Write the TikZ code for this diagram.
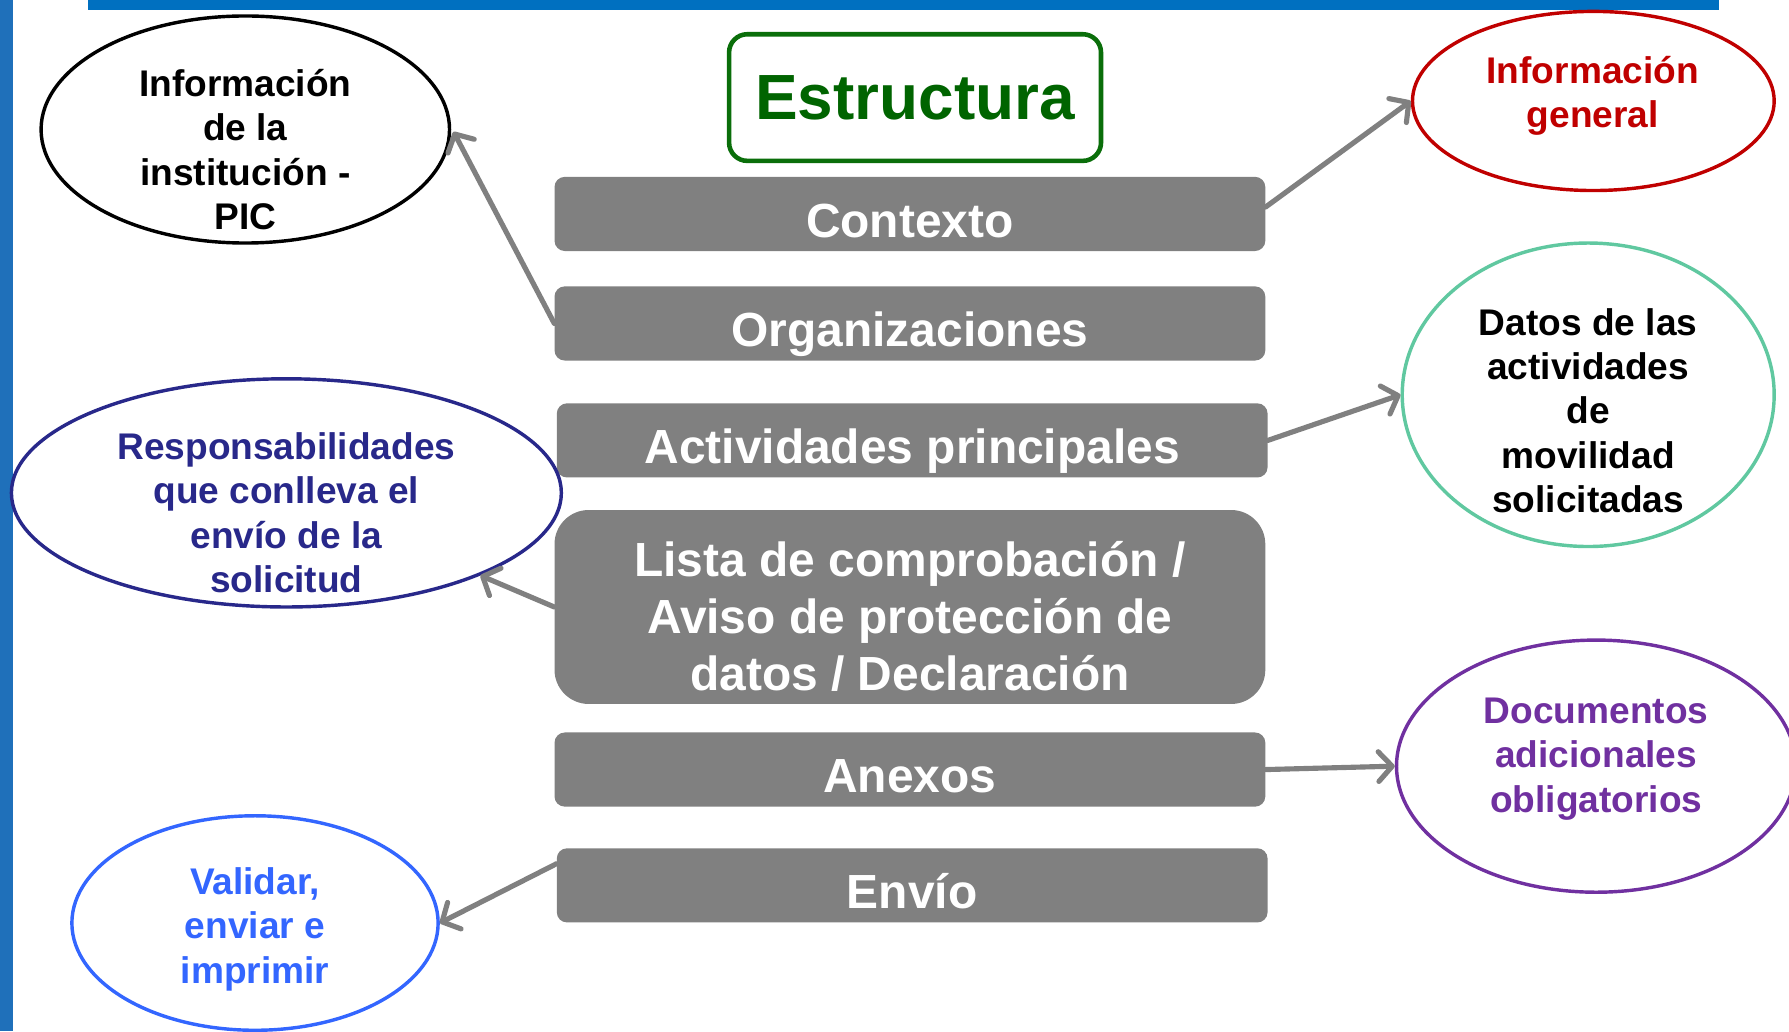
\documentclass[tikz,border=0pt]{standalone}
\usepackage{fontspec}
\setmainfont{Liberation Sans}
\usetikzlibrary{shapes.geometric,arrows.meta}
\definecolor{topblue}{HTML}{0070C0}
\definecolor{sideblue}{HTML}{1F70BA}
\definecolor{boxgray}{HTML}{808080}
\definecolor{estgreen}{HTML}{0A6E0A}
\definecolor{esttext}{HTML}{006400}
\definecolor{myred}{HTML}{C00000}
\definecolor{mygreen}{HTML}{60C8A0}
\definecolor{mynavy}{HTML}{28288A}
\definecolor{mypurple}{HTML}{7030A0}
\definecolor{myblue}{HTML}{3366FF}
\tikzset{
  graybox/.style={fill=boxgray, rounded corners=9pt, minimum width=623pt, minimum height=65pt,
    inner sep=0pt, text=white, font=\bfseries\fontsize{42}{50}\selectfont, align=center,
    text height=41pt, text depth=0pt},
  boxtext/.style={text=white, font=\bfseries\fontsize{42}{50}\selectfont, align=center, inner sep=0pt},
  oval/.style={ellipse, draw, line width=3pt, inner sep=0pt, fill=white},
  ovaltext/.style={font=\bfseries\fontsize{32.5}{39}\selectfont, align=center, inner sep=0pt},
  conn/.style={draw=boxgray, line width=4.5pt, line cap=round,
    -{Straight Barb[length=12pt,width=26pt,round]}}
}
\begin{document}
\begin{tikzpicture}[x=1pt,y=-1pt]
\useasboundingbox (0,0) rectangle (1568,904);
\fill[white] (0,0) rectangle (1568,904);
% bars
\fill[topblue] (77,0) rectangle (1507,9);
\fill[sideblue] (0,0) rectangle (11,904);

% title
\node[draw=estgreen, line width=4pt, rounded corners=16pt, minimum width=326pt, minimum height=111pt,
  inner sep=0pt, text=esttext, font=\bfseries\fontsize{56}{64}\selectfont] (est) at (802,85.5) {Estructura};

% boxes
\node[graybox] (ctx) at (797.5,187.5) {Contexto};
\node[graybox] (org) at (797.5,283.5) {Organizaciones};
\node[graybox] (act) at (799.5,386) {Actividades principales};
\node[fill=boxgray, rounded corners=30pt, minimum width=623pt, minimum height=170pt, inner sep=0pt] (lst) at (797.5,532) {};
\node[boxtext] (lstt) at (797.5,540)
  {Lista de comprobación /\\Aviso de protección de\\datos / Declaración};
\node[graybox] (anx) at (797.5,674.5) {Anexos};
\node[graybox] (env) at (799.5,776) {Envío};

% ellipses
\node[oval, draw=black, minimum width=358pt, minimum height=199pt] (e1) at (215,113.5) {};
\node[ovaltext, text=black] (t1) at (215,131) {Información\\de la\\institución -\\PIC};

\node[oval, draw=myred, minimum width=317pt, minimum height=157pt] (e2) at (1396.5,88.5) {};
\node[ovaltext, text=myred] (t2) at (1396,84) {Información\\general};

\node[oval, draw=mygreen, minimum width=326pt, minimum height=266pt] (e3) at (1392,346) {};
\node[ovaltext, text=black] (t3) at (1392,360) {Datos de las\\actividades\\de\\movilidad\\solicitadas};

\node[oval, draw=mynavy, minimum width=482pt, minimum height=200pt] (e4) at (251,432) {};
\node[ovaltext, text=mynavy] (t4) at (251,449.5) {Responsabilidades\\que conlleva el\\envío de la\\solicitud};

\node[oval, draw=mypurple, minimum width=350pt, minimum height=221pt] (e5) at (1399,671.5) {};
\node[ovaltext, text=mypurple] (t5) at (1399,665) {Documentos\\adicionales\\obligatorios};

\node[oval, draw=myblue, minimum width=321pt, minimum height=188pt] (e6) at (223.5,809) {};
\node[ovaltext, text=myblue] (t6) at (223.5,814.5) {Validar,\\enviar e\\imprimir};

% connectors
\draw[conn] (org.west) -- ([xshift=2pt,yshift=-2pt]e1.east);
\draw[conn] ([yshift=6pt]ctx.east) -- (e2.west);
\draw[conn] (act.east) -- (e3.west);
\draw[conn] (lst.west) -- (e4);
\draw[conn] (anx.east) -- (e5.west);
\draw[conn] ([yshift=19pt]env.west) -- (e6.east);
\end{tikzpicture}
\end{document}
